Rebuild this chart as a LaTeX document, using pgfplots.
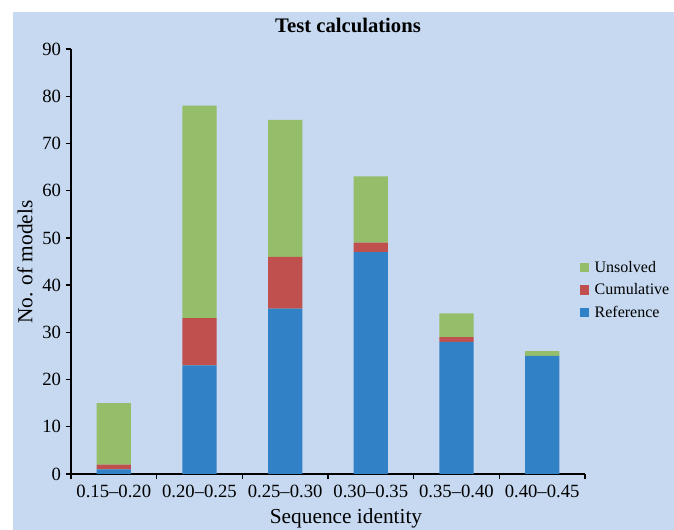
\documentclass[border=0pt]{standalone}
\usepackage{fontspec}
\setmainfont{Liberation Serif}
\usepackage{pgfplots}
\pgfplotsset{compat=1.18}

\definecolor{bgblue}{HTML}{C6D9F0}
\definecolor{refblue}{HTML}{3181C6}
\definecolor{cumred}{HTML}{C0504D}
\definecolor{unsgreen}{HTML}{94BE6A}

\begin{document}
\begin{tikzpicture}[x=0.75pt,y=0.75pt]
  % page and chart area (1 unit = 1 px of the reference)
  \useasboundingbox (0,0) rectangle (674,530);
  \fill[white] (0,0) rectangle (674,530);
  \fill[bgblue] (13,0) rectangle (674,518);
  \node[font=\bfseries\fontsize{15.5}{18}\selectfont] at (348,505) {Test calculations};
  \node[font=\fontsize{16}{18}\selectfont] at (346,12) {Sequence identity};
  \node[font=\fontsize{16}{18}\selectfont, rotate=90] at (25,268) {No. of models};
  \begin{axis}[
      at={(53.25pt,42pt)}, anchor=south west,
      scale only axis, width=385.5pt, height=318.75pt,
      xmin=-0.5, xmax=5.5, ymin=0, ymax=90,
      axis lines*=left,
      axis line style={black, line width=1pt},
      ybar stacked, bar width=0.4,
      xtick={0,...,5},
      xticklabels={0.15--0.20,0.20--0.25,0.25--0.30,0.30--0.35,0.35--0.40,0.40--0.45},
      major x tick style={draw=none},
      minor xtick={-0.5,0.5,...,5.5},
      ytick={0,10,...,90},
      tick align=outside,
      major tick length=4pt,
      minor tick length=4pt,
      tick style={black, line width=1pt},
      ticklabel style={font=\fontsize{14}{16}\selectfont},
      xticklabel style={yshift=-1pt},
      /pgf/number format/assume math mode=true,
      legend style={draw=none, fill=none, at={(0.982,0.433)}, anchor=west,
        font=\fontsize{12}{14}\selectfont, row sep=3pt,
        nodes={inner xsep=4pt}},
      legend cell align=left,
      reverse legend,
      legend image code/.code={\fill[#1] (0pt,-3.5pt) rectangle (7pt,3.5pt);},
    ]
    \addplot[fill=refblue, draw=none] coordinates {(0,1) (1,23) (2,35) (3,47) (4,28) (5,25)};
    \addplot[fill=cumred, draw=none] coordinates {(0,1) (1,10) (2,11) (3,2) (4,1) (5,0)};
    \addplot[fill=unsgreen, draw=none] coordinates {(0,13) (1,45) (2,29) (3,14) (4,5) (5,1)};
    \legend{Reference,Cumulative,Unsolved}
  \end{axis}
\end{tikzpicture}
\end{document}
